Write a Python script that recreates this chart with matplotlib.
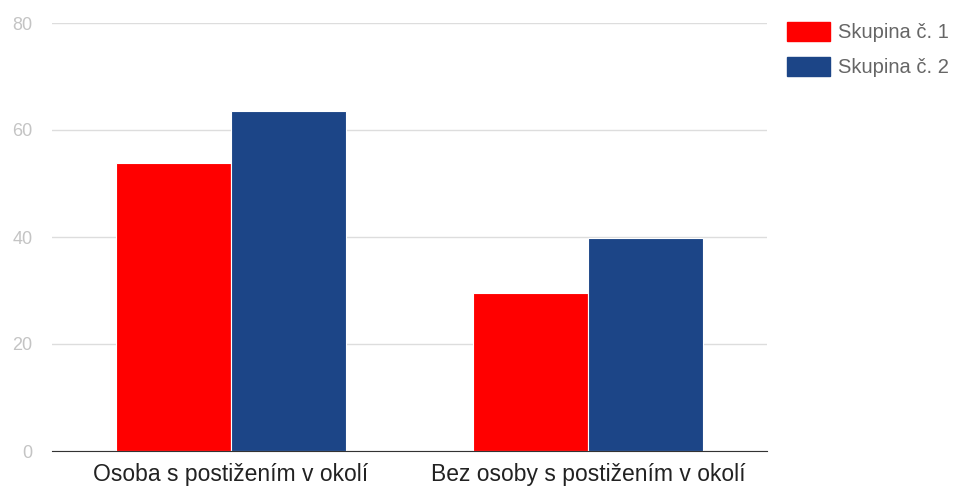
import numpy as np
import matplotlib
matplotlib.use("Agg")
import matplotlib.pyplot as plt
from matplotlib.patches import Patch

plt.rcParams['font.family'] = ['Liberation Sans', 'DejaVu Sans']

categories = ["Osoba s postižením v okolí", "Bez osoby s postižením v okolí"]
series_names = ["Skupina č. 1", "Skupina č. 2"]
group1 = [53.8, 29.6]
group2 = [63.6, 39.8]
colors = ["#ff0000", "#1c4587"]

fig = plt.figure(figsize=(9.56, 4.88), dpi=100)
ax = fig.add_axes([52 / 956, 1 - 451 / 488, 715 / 956, 428 / 488])

x = np.arange(len(categories))
w = 0.322
ax.bar(x - w / 2, group1, width=w, color=colors[0], edgecolor="white", linewidth=0.8, zorder=3)
ax.bar(x + w / 2, group2, width=w, color=colors[1], edgecolor="white", linewidth=0.8, zorder=3)

ax.set_xlim(-0.5, 1.5)
ax.set_ylim(0, 80)
ax.set_yticks([0, 20, 40, 60, 80])
ax.set_xticks(x)
ax.set_xticklabels(categories, fontsize=16.5, color="#222222")
ax.tick_params(axis="x", length=0, pad=9)
ax.tick_params(axis="y", length=0, pad=14, labelsize=13, labelcolor="#c4c4c4")

ax.grid(axis="y", color="#dddddd", linewidth=1, zorder=0)
for s in ["top", "right", "left"]:
    ax.spines[s].set_visible(False)
ax.spines["bottom"].set_color("#333333")
ax.spines["bottom"].set_zorder(4)

handles = [Patch(facecolor=c, edgecolor=c) for c in colors]
fig.legend(handles, series_names, loc="upper left", bbox_to_anchor=(769 / 956, 1 - 4 / 488),
           frameon=False, fontsize=14.5, labelcolor="#666666", handlelength=2.15, handleheight=1.05,
           handletextpad=0.4, labelspacing=0.72)

fig.savefig("out.png", dpi=100, facecolor="white")
